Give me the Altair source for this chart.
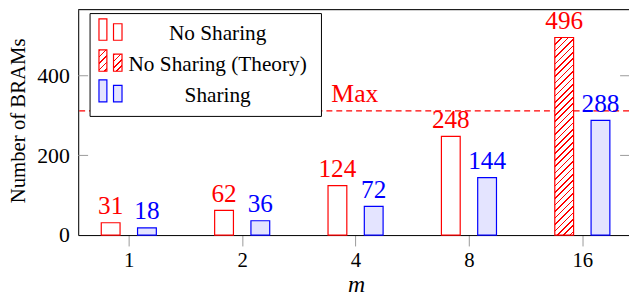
import json
import altair as alt
import pandas as pd

# ---------------- data ----------------
m_labels = ["1", "2", "4", "8", "16"]
no_sharing = [31, 62, 124, 248]          # m = 1, 2, 4, 8
theory_m = "16"
theory_value = 496                       # No Sharing (Theory) at m = 16
sharing = [18, 36, 72, 144, 288]
max_brams = 312
y_ticks = [0, 200, 400]
legend_labels = ["No Sharing", "No Sharing (Theory)", "Sharing"]

# ---------------- layout / style ----------------
W, H = 557, 228
Y_MAX = 566
X_DOMAIN = [-0.4026, 4.368]
PX_PER_UNIT = H / Y_MAX
BAR_W = 19
OFF = 0.16
RED = "#ff0000"
BLUE = "#0000ff"
LAV = "#e4e4ff"
FONT = "'Liberation Serif', 'Times New Roman', Tinos, 'DejaVu Serif', serif"
TICK_GREY = "#9a9a9a"


def hatch_gradient(w, h, period=6.5, line=1.6, color=RED):
    """Diagonal '/' hatching as a sharp-stop linear gradient (bbox units)."""
    a = w / h
    s = (a + 1) / (a * a + 1)
    total = w + h
    stops = []
    pos = 0.0
    while pos < total:
        c0 = pos / total
        c1 = min((pos + line) / total, 1.0)
        stops.append(alt.GradientStop(offset=c0, color=color))
        stops.append(alt.GradientStop(offset=c1, color=color))
        if c1 < 1.0:
            stops.append(alt.GradientStop(offset=c1, color="white"))
            nxt = min((pos + period) / total, 1.0)
            stops.append(alt.GradientStop(offset=nxt, color="white"))
        pos += period
    return alt.LinearGradient(gradient="linear", stops=stops,
                              x1=0, y1=0, x2=a * s, y2=s)


df_ns = pd.DataFrame({"m": m_labels[:4], "idx": list(range(4)), "value": no_sharing})
df_th = pd.DataFrame({"m": [theory_m], "idx": [m_labels.index(theory_m)], "value": [theory_value]})
df_sh = pd.DataFrame({"m": m_labels, "idx": list(range(5)), "value": sharing})
one = pd.DataFrame({"a": [0]})

x_axis = alt.Axis(
    values=list(range(len(m_labels))),
    labelExpr=f"{json.dumps(m_labels)}[datum.value]",
    title="m", titleFont=FONT, titleFontSize=24, titleFontStyle="italic",
    titleFontWeight="normal", titleColor="black", titleX=281, titleY=57,
    titleBaseline="alphabetic", titleAlign="center",
    labelFont=FONT, labelFontSize=21, labelColor="black", labelBaseline="alphabetic",
    labelPadding=21, labelAngle=0,
    tickSize=11, tickColor=TICK_GREY, tickWidth=1,
    domainColor="black", domainWidth=1, grid=False,
)
y_axis = alt.Axis(
    values=y_ticks, ticks=False, labelPadding=9, labelFont=FONT, labelFontSize=22,
    labelColor="black", domainColor="black", domainWidth=1, grid=False,
    title="Number of BRAMs", titleFont=FONT, titleFontSize=21, titleFontWeight="normal",
    titleColor="black", titleAngle=-90, titleX=-54, titleY=112,
    titleBaseline="alphabetic", titleAlign="center",
)
x_enc = alt.X("x:Q", scale=alt.Scale(domain=X_DOMAIN, nice=False, zero=False), axis=x_axis)
y_enc = alt.Y("value:Q", scale=alt.Scale(domain=[0, Y_MAX], nice=False), axis=y_axis)

layers = []

# Max line (drawn under the legend)
layers.append(alt.Chart(pd.DataFrame({"value": [max_brams]})).mark_rule(
    color=RED, strokeDash=[6, 4], strokeWidth=1.2).encode(y=y_enc))
layers.append(alt.Chart(pd.DataFrame({"value": [max_brams]})).mark_text(
    text="Max", align="left", baseline="alphabetic", dy=-9, fontSize=26,
    font=FONT, color=RED).encode(x=alt.value(256), y=y_enc))

# bars
layers.append(alt.Chart(df_ns).transform_calculate(x=f"datum.idx - {OFF}").mark_bar(
    size=BAR_W, fill="white", stroke=RED, strokeWidth=1.2).encode(x=x_enc, y=y_enc))
layers.append(alt.Chart(df_th).transform_calculate(x=f"datum.idx - {OFF}").mark_bar(
    size=BAR_W, fill=hatch_gradient(BAR_W, theory_value * PX_PER_UNIT),
    stroke=RED, strokeWidth=1.2).encode(x=x_enc, y=y_enc))
layers.append(alt.Chart(df_sh).transform_calculate(x=f"datum.idx + {OFF}").mark_bar(
    size=BAR_W, fill=LAV, stroke=BLUE, strokeWidth=1.2).encode(x=x_enc, y=y_enc))

# value labels
for df, sign, col in [(df_ns, "-", RED), (df_th, "-", RED), (df_sh, "+", BLUE)]:
    layers.append(alt.Chart(df).transform_calculate(x=f"datum.idx {sign} {OFF}").mark_text(
        dy=-8.5, baseline="alphabetic", align="center", fontSize=25.5, font=FONT,
        color=col).encode(x=x_enc, y=y_enc, text="value:Q"))

# inward y ticks (left & right) and top frame line
tick_df = pd.DataFrame({"value": y_ticks[1:]})
layers.append(alt.Chart(tick_df).mark_rule(color=TICK_GREY, strokeWidth=1).encode(
    y=y_enc, x=alt.value(0), x2=alt.value(10)))
layers.append(alt.Chart(tick_df).mark_rule(color=TICK_GREY, strokeWidth=1).encode(
    y=y_enc, x=alt.value(W - 9), x2=alt.value(W)))
layers.append(alt.Chart(one).mark_rule(color="black", strokeWidth=1).encode(
    x=alt.value(0), x2=alt.value(W), y=alt.value(0)))

# legend
layers.append(alt.Chart(one).mark_rect(fill="white", stroke="black", strokeWidth=1).encode(
    x=alt.value(12), x2=alt.value(246), y=alt.value(4), y2=alt.value(108)))
legend_rows = [
    (legend_labels[0], "white", RED, 31.0, 9.3, 14.3),
    (legend_labels[1], "hatch", RED, 62.3, 40.7, 45.0),
    (legend_labels[2], LAV, BLUE, 93.3, 71.0, 76.7),
]
for label, fill, stroke, bottom, top_tall, top_short in legend_rows:
    for (x0, x1, top) in [(21, 29, top_tall), (35.7, 44.3, top_short)]:
        f = hatch_gradient(x1 - x0, bottom - top, period=6.5, line=1.6) if fill == "hatch" else fill
        layers.append(alt.Chart(one).mark_rect(fill=f, stroke=stroke, strokeWidth=1.2).encode(
            x=alt.value(x0), x2=alt.value(x1), y=alt.value(top), y2=alt.value(bottom)))
    layers.append(alt.Chart(one).mark_text(
        text=label, align="center", baseline="alphabetic", fontSize=21.5, font=FONT,
        color="black").encode(x=alt.value(141), y=alt.value(bottom)))

chart = alt.layer(*layers).properties(
    width=W, height=H,
    autosize=alt.AutoSizeParams(type="none"),
    padding={"left": 71, "top": 0, "right": 0, "bottom": 62},
).configure_view(stroke=None).configure(background="white")

chart.save("out.html", embed_options={"renderer": "svg", "actions": False})
